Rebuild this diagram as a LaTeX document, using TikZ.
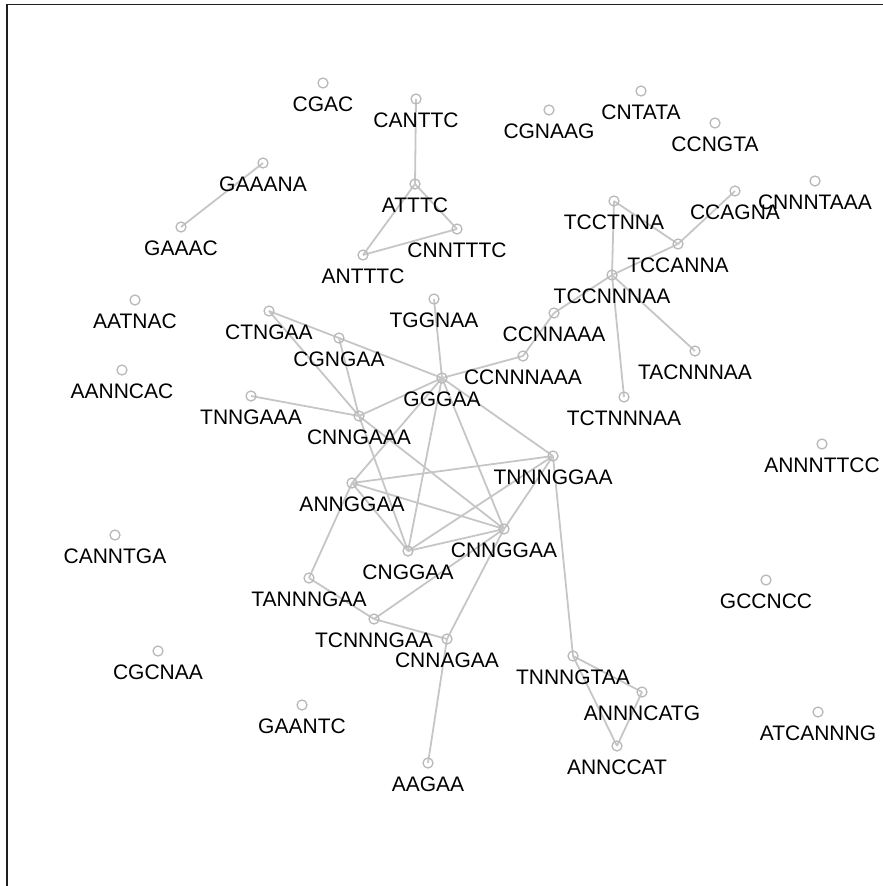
\documentclass[tikz,border=0pt]{standalone}
\usepackage{fontspec}
\setmainfont{Liberation Sans}
\pgfdeclarelayer{background}
\pgfsetlayers{background,main}
\definecolor{edgegray}{RGB}{198,198,198}
\definecolor{circgray}{RGB}{185,185,185}
\definecolor{framecol}{RGB}{30,30,30}
\tikzset{
  vtx/.style={circle, draw=circgray, line width=1.3pt, minimum size=10pt, inner sep=0pt},
  lab/.style={inner sep=0pt, font=\fontsize{21}{25}\selectfont, text=black},
  edge/.style={draw=edgegray, line width=1.8pt},
}
\newcommand{\vx}[4]{\node[vtx, label={[lab, label distance=7.5pt]below:#4}] (#1) at (#2,#3) {};}
\begin{document}
\begin{tikzpicture}[x=1pt,y=-1pt]
\useasboundingbox (0,0) rectangle (883,886);
\draw[framecol, line width=1.5pt] (7,886) coordinate (fb) -- (7,4.5) coordinate (fc) -- (883,4.5) coordinate (fr);
\vx{CGAC}{323}{83}{CGAC}
\vx{CANTTC}{416}{99}{CANTTC}
\vx{GAAANA}{263}{163}{GAAANA}
\vx{GAAAC}{181}{227}{GAAAC}
\vx{ATTTC}{415}{184}{ATTTC}
\vx{CNNTTTC}{457}{229}{CNNTTTC}
\vx{ANTTTC}{363}{255}{ANTTTC}
\vx{CGNAAG}{549}{110}{CGNAAG}
\vx{CNTATA}{641}{91}{CNTATA}
\vx{CCNGTA}{715}{123}{CCNGTA}
\vx{TCCTNNA}{614}{201}{TCCTNNA}
\vx{CCAGNA}{735}{191}{CCAGNA}
\vx{CNNNTAAA}{815}{181}{CNNNTAAA}
\vx{TCCANNA}{678}{244}{TCCANNA}
\vx{TCCNNNAA}{612}{275}{TCCNNNAA}
\vx{AATNAC}{135}{300}{AATNAC}
\vx{CTNGAA}{269}{311}{CTNGAA}
\vx{TGGNAA}{434}{299}{TGGNAA}
\vx{CCNNAAA}{554}{313}{CCNNAAA}
\vx{CGNGAA}{339}{338}{CGNGAA}
\vx{AANNCAC}{122}{370}{AANNCAC}
\vx{TACNNNAA}{695}{351}{TACNNNAA}
\vx{CCNNNAAA}{523}{356}{CCNNNAAA}
\vx{GGGAA}{442}{378}{GGGAA}
\vx{TNNGAAA}{251}{396}{TNNGAAA}
\vx{TCTNNNAA}{624}{397}{TCTNNNAA}
\vx{CNNGAAA}{359}{416}{CNNGAAA}
\vx{ANNNTTCC}{822}{444}{ANNNTTCC}
\vx{TNNNGGAA}{553}{456}{TNNNGGAA}
\vx{ANNGGAA}{352}{483}{ANNGGAA}
\vx{CNNGGAA}{504}{529}{CNNGGAA}
\vx{CANNTGA}{115}{535}{CANNTGA}
\vx{CNGGAA}{408}{551}{CNGGAA}
\vx{TANNNGAA}{309}{578}{TANNNGAA}
\vx{GCCNCC}{766}{580}{GCCNCC}
\vx{TCNNNGAA}{374}{619}{TCNNNGAA}
\vx{CNNAGAA}{447}{639}{CNNAGAA}
\vx{CGCNAA}{158}{651}{CGCNAA}
\vx{TNNNGTAA}{573}{656}{TNNNGTAA}
\vx{ANNNCATG}{642}{692}{ANNNCATG}
\vx{GAANTC}{302}{705}{GAANTC}
\vx{ATCANNNG}{818}{712}{ATCANNNG}
\vx{ANNCCAT}{617}{746}{ANNCCAT}
\vx{AAGAA}{428}{763}{AAGAA}
\begin{pgfonlayer}{background}
\foreach \a/\b in {GAAANA/GAAAC, CANTTC/ATTTC, ATTTC/ANTTTC, ATTTC/CNNTTTC, ANTTTC/CNNTTTC,
  TCCTNNA/TCCANNA, TCCTNNA/TCCNNNAA, CCAGNA/TCCANNA, TCCANNA/TCCNNNAA,
  TCCNNNAA/CCNNAAA, TCCNNNAA/TACNNNAA, TCCNNNAA/TCTNNNAA, CCNNAAA/CCNNNAAA,
  CCNNNAAA/GGGAA, TGGNAA/GGGAA, CTNGAA/CGNGAA, CGNGAA/GGGAA, CTNGAA/CNNGAAA,
  CGNGAA/CNNGAAA, TNNGAAA/CNNGAAA, CNNGAAA/GGGAA, CNNGAAA/CNGGAA, CNNGAAA/CNNGGAA,
  GGGAA/ANNGGAA, GGGAA/CNGGAA, GGGAA/CNNGGAA, GGGAA/TNNNGGAA,
  ANNGGAA/TNNNGGAA, ANNGGAA/CNGGAA, ANNGGAA/CNNGGAA, ANNGGAA/TANNNGAA,
  TNNNGGAA/CNGGAA, TNNNGGAA/CNNGGAA, TNNNGGAA/TNNNGTAA, CNNGGAA/CNGGAA,
  CNNGGAA/CNNAGAA, CNNGGAA/TCNNNGAA, TANNNGAA/TCNNNGAA, TCNNNGAA/CNNAGAA,
  CNNAGAA/AAGAA, TNNNGTAA/ANNNCATG, TNNNGTAA/ANNCCAT, ANNNCATG/ANNCCAT}
  \draw[edge] (\a.center) -- (\b.center);
\end{pgfonlayer}
\end{tikzpicture}
\end{document}
